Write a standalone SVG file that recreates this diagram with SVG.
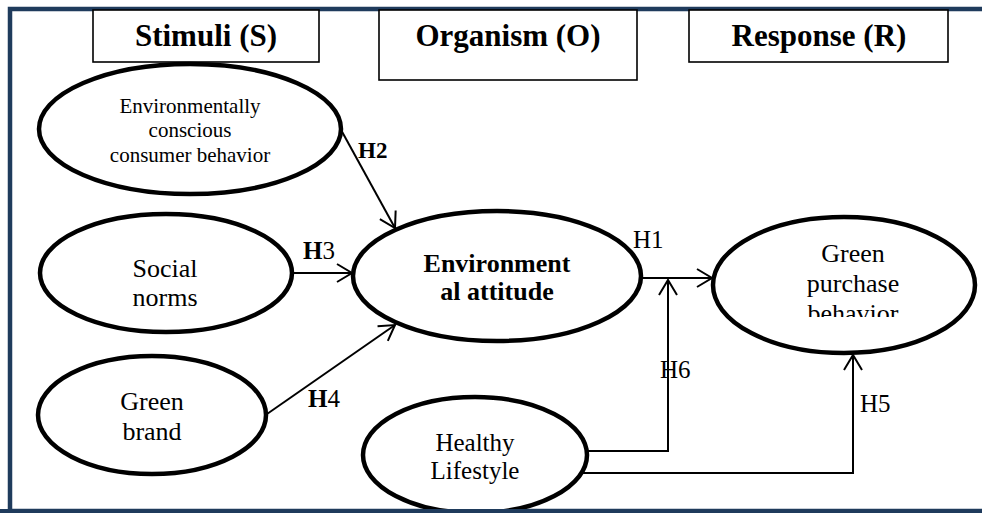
<svg xmlns="http://www.w3.org/2000/svg" width="982" height="513" viewBox="0 0 982 513">
<style>
.frame{fill:none;stroke:#1f3b5c;stroke-width:4.5}
.hbox{fill:#fff;stroke:#000;stroke-width:1.6}
.htxt{font-family:"Liberation Serif","Times New Roman",serif;font-weight:bold;font-size:31px;fill:#000;text-anchor:middle}
.ell{fill:#fff;stroke:#000;stroke-width:4.5}
.t{font-family:"Liberation Serif","Times New Roman",serif;font-size:26px;fill:#000;text-anchor:middle}
.ts{font-size:21px}
.tb{font-weight:bold}
.conn{fill:none;stroke:#000;stroke-width:2}
.lbl{font-family:"Liberation Serif","Times New Roman",serif;font-size:25px;fill:#000}
</style>
<defs>
<marker id="arr" markerUnits="userSpaceOnUse" markerWidth="20" markerHeight="24" viewBox="-17 -12 20 24" refX="0" refY="0" orient="auto">
<path d="M-15,-9 L0,0 L-15,9" fill="none" stroke="#000" stroke-width="2"/>
</marker>
<clipPath id="clipGP"><rect x="700" y="200" width="280" height="117"/></clipPath>
</defs>
<rect x="0" y="0" width="982" height="513" fill="#fff"/>
<rect class="frame" x="10" y="9" width="990" height="502"/>

<g id="hdr-stimuli">
<rect class="hbox" x="93" y="10" width="226" height="52"/>
<text class="htxt" x="206" y="46">Stimuli (S)</text>
</g>
<g id="hdr-organism">
<rect class="hbox" x="379" y="10" width="258" height="70"/>
<text class="htxt" x="508" y="46">Organism (O)</text>
</g>
<g id="hdr-response">
<rect class="hbox" x="689" y="10" width="259" height="52"/>
<text class="htxt" x="819" y="46">Response (R)</text>
</g>

<g id="connectors">
<line class="conn" x1="340" y1="128" x2="395" y2="228" marker-end="url(#arr)"/>
<line class="conn" x1="293" y1="273" x2="352" y2="273" marker-end="url(#arr)"/>
<line class="conn" x1="267" y1="414" x2="395" y2="325" marker-end="url(#arr)"/>
<line class="conn" x1="641" y1="278" x2="712" y2="278" marker-end="url(#arr)"/>
<polyline class="conn" points="585,451 668,451 668,280" marker-end="url(#arr)"/>
<polyline class="conn" points="583,473 853,473 853,355" marker-end="url(#arr)"/>
<text class="lbl tb" x="358" y="158" style="font-size:23px">H2</text>
<text class="lbl" x="303" y="259"><tspan font-weight="bold">H</tspan>3</text>
<text class="lbl" x="308" y="407"><tspan font-weight="bold">H</tspan>4</text>
<text class="lbl" x="633" y="248">H1</text>
<text class="lbl" x="660" y="378">H6</text>
<text class="lbl" x="860" y="412">H5</text>
</g>

<g id="n-ecb">
<ellipse class="ell" cx="190" cy="129" rx="151" ry="65"/>
<text class="t ts" x="190" y="113">Environmentally</text>
<text class="t ts" x="190" y="137">conscious</text>
<text class="t ts" x="190" y="162">consumer behavior</text>
</g>
<g id="n-social">
<ellipse class="ell" cx="166" cy="273" rx="126" ry="59"/>
<text class="t" x="165" y="277">Social</text>
<text class="t" x="165" y="306">norms</text>
</g>
<g id="n-brand">
<ellipse class="ell" cx="152" cy="415" rx="114" ry="59"/>
<text class="t" x="152" y="410">Green</text>
<text class="t" x="152" y="440">brand</text>
</g>
<g id="n-attitude">
<ellipse class="ell" cx="497" cy="276" rx="144" ry="65"/>
<text class="t tb" x="497" y="272">Environment</text>
<text class="t tb" x="497" y="300">al attitude</text>
</g>
<g id="n-gpb">
<ellipse class="ell" cx="844" cy="285" rx="131" ry="68"/>
<text class="t" x="853" y="262">Green</text>
<text class="t" x="853" y="292">purchase</text>
<text class="t" x="853" y="322" clip-path="url(#clipGP)">behavior</text>
</g>
<g id="n-healthy">
<ellipse class="ell" cx="475" cy="455" rx="112" ry="58"/>
<text class="t" x="475" y="451" style="font-size:25px">Healthy</text>
<text class="t" x="475" y="479" style="font-size:25px">Lifestyle</text>
</g>
<rect x="0" y="509" width="982" height="4" fill="#1f3b5c"/>
</svg>
